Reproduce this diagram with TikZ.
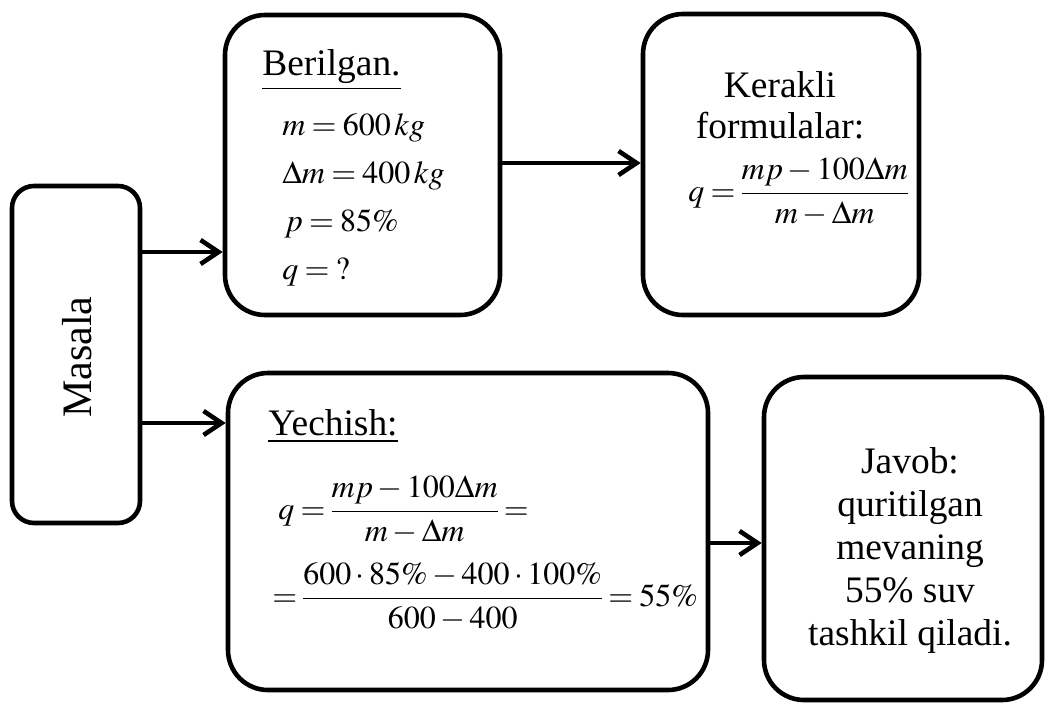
\documentclass[tikz,border=0pt]{standalone}
\usepackage{amsmath}
\usepackage{mathptmx}
\usepackage[no-math]{fontspec}
\setmainfont{Liberation Serif}
\usetikzlibrary{arrows.meta}
\thickmuskip=3.5mu plus 2mu\relax
\medmuskip=2.5mu plus 1mu\relax
\nulldelimiterspace=0pt\relax

\begin{document}
\begin{tikzpicture}[x=0.5pt, y=-0.5pt,
    box/.style={draw, line width=2.3pt, rounded corners=20pt, inner sep=0pt},
    arr/.style={line width=2.3pt, -{Straight Barb[length=9pt,width=12pt,line width=2.3pt]}},
    txt/.style={inner sep=0pt, font=\fontsize{18.7}{21.5}\selectfont},
    mth/.style={inner sep=0pt, font=\fontsize{16}{19}\selectfont}]
    \useasboundingbox (0,0) rectangle (1047,702);

    % Masala
    \node[box, rounded corners=11pt, minimum width=64pt, minimum height=168.5pt] (masala) at (76,354.5) {};
    \node[txt, font=\fontsize{21}{25}\selectfont, rotate=90] (masalaT) at (77,357) {Masala};

    % Berilgan
    \node[box, minimum width=137.5pt, minimum height=150pt] (berilgan) at (362.5,165) {};
    \node[txt, anchor=base west] (berT) at (262,75) {\underline{Berilgan.}};
    \node[mth, anchor=base west] (ber1) at (282,135) {$m=600\,kg$};
    \node[mth, anchor=base west] (ber2) at (282,183) {$\Delta m=400\,kg$};
    \node[mth, anchor=base west] (ber3) at (284,231) {$p=85\%$};
    \node[mth, anchor=base west] (ber4) at (282,279) {$q={?}$};

    % Kerakli formulalar
    \node[box, minimum width=138pt, minimum height=150.5pt] (kerakli) at (781,164.5) {};
    \node[txt, anchor=base] (kerT1) at (780,97) {Kerakli};
    \node[txt, anchor=base] (kerT2) at (780,138) {formulalar:};
    \node[mth, anchor=west] (kerF) at (688,192) {$q=\dfrac{mp-100\Delta m}{m-\Delta m}$};

    % Yechish
    \node[box, minimum width=240pt, minimum height=158.5pt] (yechish) at (468,531.5) {};
    \node[txt, anchor=base west] (yecT) at (268,435) {\underline{Yechish:}};
    \node[mth, anchor=west] (yec1) at (278,510) {$q=\dfrac{mp-100\Delta m}{m-\Delta m}=$};
    \node[mth, anchor=west] (yec2) at (272,597) {$=\dfrac{600\cdot 85\%-400\cdot 100\%}{600-400}=55\%$};

    % Javob
    \node[box, minimum width=139pt, minimum height=161.5pt] (javob) at (903,538.5) {};
    \node[txt, align=center] (javT) at (910,550) {Javob:\\quritilgan\\mevaning\\55\% suv\\tashkil qiladi.};

    % strelkalar
    \coordinate (y1) at (0,252);
    \coordinate (y2) at (0,423);
    \coordinate (y3) at (0,163);
    \coordinate (y4) at (0,543);
    \draw[arr] (masala.east |- y1) -- (berilgan.west |- y1);
    \draw[arr] (masala.east |- y2) -- (yechish.west |- y2);
    \draw[arr] (berilgan.east |- y3) -- (kerakli.west |- y3);
    \draw[arr] (yechish.east |- y4) -- (javob.west |- y4);
\end{tikzpicture}
\end{document}
